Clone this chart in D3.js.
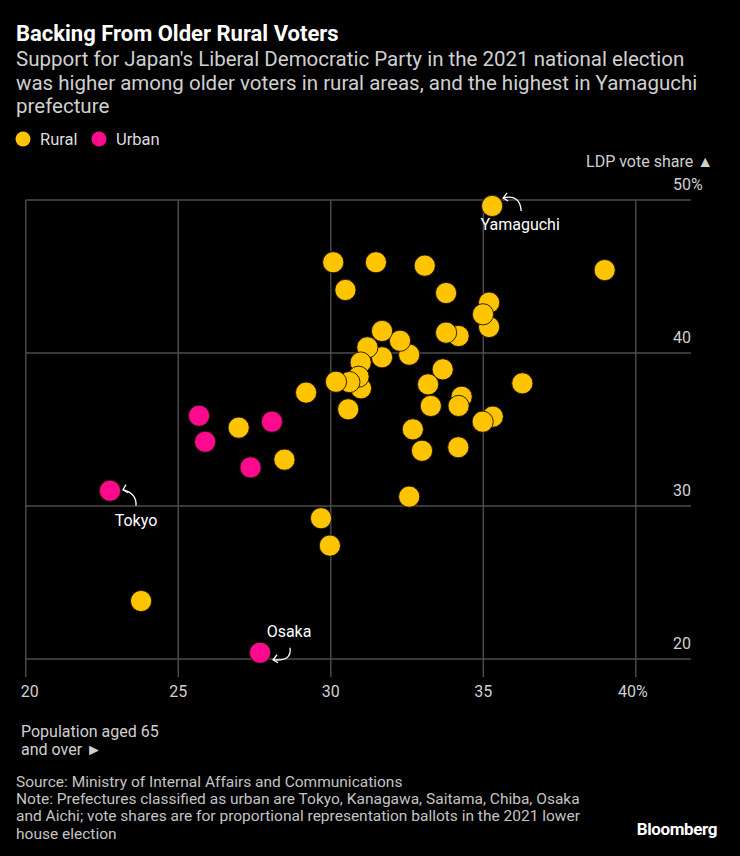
<!DOCTYPE html>
<html>
<head>
<meta charset="utf-8">
<script src="https://cdn.jsdelivr.net/npm/d3@7"></script>
<style>
  html, body { margin: 0; padding: 0; background: #000; }
  svg { display: block; }
  text { font-family: Roboto, "Liberation Sans", sans-serif; }
</style>
</head>
<body>
<svg id="chart" width="740" height="856"></svg>
<script>
// ---- Data ----
const ruralAged = [35.29, 38.98, 30.08, 31.48, 33.08, 30.48, 33.78, 35.19, 34.99, 35.19,
  31.68, 33.78, 34.19, 32.27, 31.20, 32.57, 31.68, 30.98, 33.67, 29.19,
  30.17, 30.61, 30.91, 30.99, 30.57, 32.69, 28.48, 33.19, 34.29, 34.19,
  33.28, 35.31, 34.98, 32.99, 34.18, 36.28, 26.98, 32.57, 29.68, 29.97, 23.78];
const ruralLDP = [49.61, 45.42, 45.93, 45.93, 45.71, 44.12, 43.92, 43.29, 42.53, 41.70,
  41.44, 41.33, 41.11, 40.80, 40.37, 39.89, 39.72, 39.38, 38.93, 37.41,
  38.12, 38.10, 38.45, 37.69, 36.32, 35.01, 33.03, 37.95, 37.14, 36.54,
  36.54, 35.84, 35.51, 33.61, 33.84, 38.02, 35.12, 30.61, 29.20, 27.41, 23.79];
const ruralNames = ["Yamaguchi"];
const urbanNames = ["Tokyo", "Osaka", "", "", "", ""];
const urbanAged = [22.76, 27.68, 25.68, 25.88, 28.07, 27.37];
const urbanLDP  = [31.0, 20.41, 35.90, 34.20, 35.51, 32.52];
const xTicks = [20, 25, 30, 35, 40];
const yTicks = [20, 30, 40, 50];
const legendLabels = ["Rural", "Urban"];
const colors = { Rural: "#ffc400", Urban: "#ff0a8c" };

// ---- Build table ----
const points = [];
ruralAged.forEach((v, i) => points.push({ group: "Rural", x: v, y: ruralLDP[i], name: i === 0 ? ruralNames[0] : "" }));
urbanAged.forEach((v, i) => points.push({ group: "Urban", x: v, y: urbanLDP[i], name: urbanNames[i] }));
points.sort((a, b) => b.x - a.x);

const svg = d3.select("#chart");
svg.append("rect").attr("width", 740).attr("height", 856).attr("fill", "#000");

// ---- Titles ----
svg.append("text").attr("x", 16).attr("y", 41).attr("fill", "#fff")
  .attr("font-size", 22).attr("font-weight", 700)
  .text("Backing From Older Rural Voters");
const sub = ["Support for Japan's Liberal Democratic Party in the 2021 national election",
  "was higher among older voters in rural areas, and the highest in Yamaguchi",
  "prefecture"];
sub.forEach((s, i) => svg.append("text").attr("x", 16).attr("y", 66 + i * 23.5)
  .attr("fill", "#d0d0d0").attr("font-size", 20.5).text(s));

// ---- Legend ----
legendLabels.forEach((l, i) => {
  const g = svg.append("g");
  g.append("circle").attr("cx", i === 0 ? 23 : 99).attr("cy", 139).attr("r", 7.5).attr("fill", colors[l]);
  g.append("text").attr("x", i === 0 ? 40 : 116).attr("y", 145).attr("fill", "#ddd")
    .attr("font-size", 16.5).text(l);
});

// ---- Scales ----
const x = d3.scaleLinear().domain([20, 40]).range([25.8, 635.8]);
const y = d3.scaleLinear().domain([20, 50]).range([659, 200]);
const plotRight = 691;

// grid
const grid = svg.append("g").attr("stroke", "#4d4d4d").attr("stroke-width", 1.4);
yTicks.forEach(t => grid.append("line").attr("x1", x(20)).attr("x2", plotRight)
  .attr("y1", y(t)).attr("y2", y(t)));
xTicks.forEach(t => grid.append("line").attr("x1", x(t)).attr("x2", x(t))
  .attr("y1", y(50)).attr("y2", y(20) + 18));

// y labels
yTicks.forEach(t => {
  svg.append("text").attr("x", plotRight).attr("y", y(t) - 10).attr("text-anchor", "end")
    .attr("fill", "#d0d0d0").attr("font-size", 16).text(t);
  if (t === 50) svg.append("text").attr("x", plotRight).attr("y", y(t) - 10)
    .attr("fill", "#d0d0d0").attr("font-size", 16).text("%");
});
svg.append("text").attr("x", 713).attr("y", 167).attr("text-anchor", "end")
  .attr("fill", "#d0d0d0").attr("font-size", 16).text("LDP vote share \u25B2");

// x labels
xTicks.forEach(t => {
  svg.append("text").attr("x", x(t) + (t === 20 ? 4 : (t === 40 ? -3 : 0))).attr("y", 697)
    .attr("text-anchor", "middle").attr("fill", "#d0d0d0").attr("font-size", 16)
    .text(t === 40 ? t + "%" : t);
});
svg.append("text").attr("x", 21).attr("y", 737).attr("fill", "#d0d0d0").attr("font-size", 16)
  .text("Population aged 65");
svg.append("text").attr("x", 21).attr("y", 755).attr("fill", "#d0d0d0").attr("font-size", 16)
  .text("and over \u25BA");

// ---- Points ----
svg.append("g").selectAll("circle").data(points).join("circle")
  .attr("cx", d => x(d.x)).attr("cy", d => y(d.y)).attr("r", 10.6)
  .attr("fill", d => colors[d.group]).attr("stroke", "#1a1200").attr("stroke-width", 0.9);

// ---- Annotations ----
const ann = svg.append("g");
function arrow(path, head) {
  ann.append("path").attr("d", path).attr("fill", "none").attr("stroke", "#fff").attr("stroke-width", 1.3);
  ann.append("path").attr("d", head).attr("fill", "none").attr("stroke", "#fff").attr("stroke-width", 1.3);
}
const find = n => points.find(p => p.name === n);
const yam = find("Yamaguchi"), tok = find("Tokyo"), osa = find("Osaka");
{
  const cx = x(yam.x), cy = y(yam.y);
  arrow(`M${cx + 11},${cy - 8} Q${cx + 28},${cy - 12} ${cx + 29},${cy + 5}`,
    `M${cx + 15},${cy - 13} L${cx + 11},${cy - 8} L${cx + 16},${cy - 5}`);
  ann.append("text").attr("x", cx + 28).attr("y", cy + 24).attr("text-anchor", "middle")
    .attr("fill", "#fff").attr("font-size", 16).text("Yamaguchi");
}
{
  const cx = x(tok.x), cy = y(tok.y);
  arrow(`M${cx + 13},${cy - 1} Q${cx + 27},${cy + 3} ${cx + 26},${cy + 15}`,
    `M${cx + 16},${cy - 6} L${cx + 13},${cy - 1} L${cx + 18},${cy + 2}`);
  ann.append("text").attr("x", cx + 26).attr("y", cy + 35).attr("text-anchor", "middle")
    .attr("fill", "#fff").attr("font-size", 16).text("Tokyo");
}
{
  const cx = x(osa.x), cy = y(osa.y);
  arrow(`M${cx + 30},${cy - 5} Q${cx + 32},${cy + 9} ${cx + 13},${cy + 7}`,
    `M${cx + 17},${cy + 2} L${cx + 13},${cy + 7} L${cx + 18},${cy + 10}`);
  ann.append("text").attr("x", cx + 29).attr("y", cy - 16).attr("text-anchor", "middle")
    .attr("fill", "#fff").attr("font-size", 16).text("Osaka");
}

// ---- Footer ----
const foot = ["Source: Ministry of Internal Affairs and Communications",
  "Note: Prefectures classified as urban are Tokyo, Kanagawa, Saitama, Chiba, Osaka",
  "and Aichi; vote shares are for proportional representation ballots in the 2021 lower",
  "house election"];
foot.forEach((s, i) => svg.append("text").attr("x", 16).attr("y", 787 + i * 17.2)
  .attr("fill", "#c4c4c4").attr("font-size", 15.5).text(s));
svg.append("text").attr("x", 717).attr("y", 835).attr("text-anchor", "end")
  .attr("fill", "#fff").attr("font-size", 17).attr("font-weight", 700).attr("letter-spacing", -0.4)
  .text("Bloomberg");
</script>
</body>
</html>
